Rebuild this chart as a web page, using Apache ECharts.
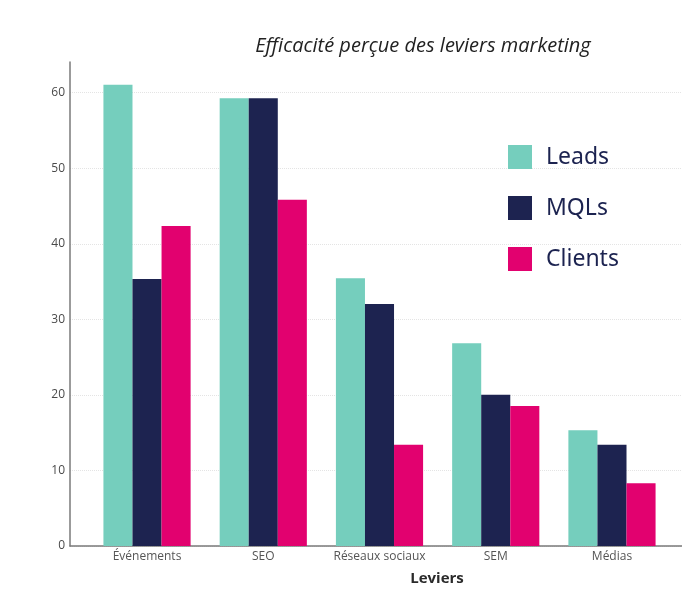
<!DOCTYPE html>
<html><head><meta charset="utf-8">
<script src="https://cdn.jsdelivr.net/npm/echarts@6/dist/echarts.min.js"></script>
<style>html,body{margin:0;padding:0;background:#fff}#c{width:682px;height:595px}</style>
</head><body><div id="c"></div>
<script>
const categories = ['Événements', 'SEO', 'Réseaux sociaux', 'SEM', 'Médias'];
const leads = [61.0, 59.2, 35.4, 26.8, 15.3];
const mqls = [35.3, 59.2, 32.0, 20.0, 13.4];
const clients = [42.3, 45.8, 13.4, 18.5, 8.3];
const yTicks = [0, 10, 20, 30, 40, 50, 60];

const chart = echarts.init(document.getElementById('c'));
const font = 'Open Sans';
chart.setOption({
  animation: false,
  title: [
    {text: 'Efficacité perçue des leviers marketing', left: 423, top: 36, textAlign: 'center', padding: 0,
     textStyle: {fontFamily: font, fontStyle: 'italic', fontWeight: 'normal', fontSize: 20, color: '#222'}},
    {text: 'Leviers', left: 437, top: 571, textAlign: 'center', padding: 0,
     textStyle: {fontFamily: font, fontWeight: 'bold', fontSize: 15, color: '#2a2a2a'}}
  ],
  legend: {
    orient: 'vertical', left: 508, top: 145, itemWidth: 24, itemHeight: 24, itemGap: 27, padding: 0,
    icon: 'rect',
    textStyle: {fontFamily: 'Noto Sans', fontSize: 23, color: '#1c2350', padding: [0, 0, 0, 9]},
    data: ['Leads', 'MQLs', 'Clients']
  },
  grid: [
    {left: 70, right: 0, top: 62, bottom: 49},
    {left: 70, right: 0, top: 92.7, bottom: 49},
    {left: 88.9, right: 11.9, top: 62, bottom: 49}
  ],
  xAxis: [
    {gridIndex: 0, type: 'value', min: 0, max: 1, axisLine: {show: true, lineStyle: {color: '#7a7a7a', width: 1.5}},
     axisTick: {show: false}, axisLabel: {show: false}, splitLine: {show: false}},
    {gridIndex: 1, type: 'value', min: 0, max: 1, show: false},
    {gridIndex: 2, type: 'category', data: categories,
     axisLine: {show: false}, axisTick: {show: false},
     axisLabel: {interval: 0, margin: 5, fontFamily: font, fontSize: 12, color: '#555'}}
  ],
  yAxis: [
    {gridIndex: 0, type: 'value', min: 0, max: 64, axisLine: {show: true, lineStyle: {color: '#7a7a7a', width: 1.5}},
     axisTick: {show: false}, axisLabel: {show: false}, splitLine: {show: false}},
    {gridIndex: 1, type: 'value', min: 0, max: 60, interval: 10,
     axisLine: {show: false}, axisTick: {show: false},
     axisLabel: {margin: 5, fontFamily: font, fontSize: 12, color: '#4a4a4a',
       formatter: v => yTicks.includes(v) ? String(v) : ''},
     splitLine: {show: true, lineStyle: {color: '#e4e4e4', type: 'dotted', width: 1}}},
    {gridIndex: 2, type: 'value', min: 0, max: 64, show: false}
  ],
  series: [
    {name: 'Leads', type: 'bar', xAxisIndex: 2, yAxisIndex: 2, data: leads, barWidth: '25%', barGap: '0%',
     itemStyle: {color: '#75cebd'}},
    {name: 'MQLs', type: 'bar', xAxisIndex: 2, yAxisIndex: 2, data: mqls, barWidth: '25%', barGap: '0%',
     itemStyle: {color: '#1d2350'}},
    {name: 'Clients', type: 'bar', xAxisIndex: 2, yAxisIndex: 2, data: clients, barWidth: '25%', barGap: '0%',
     itemStyle: {color: '#e2016f'}}
  ]
});
</script></body></html>
